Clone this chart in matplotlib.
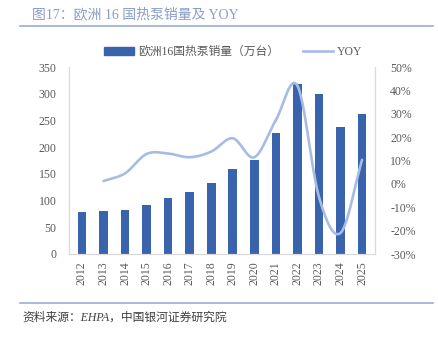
import numpy as np
import matplotlib
matplotlib.use("Agg")
import matplotlib.pyplot as plt
from matplotlib.lines import Line2D
from matplotlib.patches import Patch

years = ["2012", "2013", "2014", "2015", "2016", "2017", "2018",
         "2019", "2020", "2021", "2022", "2023", "2024", "2025"]
sales = [78, 80, 82, 92, 104, 116, 132, 159, 176, 227, 318, 300, 237, 262]
yoy_years = years[1:]
yoy = [1.2, 4.5, 12.8, 13.0, 11.4, 13.8, 19.5, 11.4, 27.3, 42.0, -5.6, -21.0, 10.3]

bar_color = "#3A63AE"
line_color = "#A7BCE5"
mixed = ["Liberation Serif", "Noto Sans CJK SC", "DejaVu Sans"]

fig = plt.figure(figsize=(4.39, 3.37), dpi=100)
ax = fig.add_axes([69/439, 1-254/337, (375-69)/439, (254-67)/337])
ax2 = ax.twinx()

x = np.arange(len(years))
ax.bar(x, sales, width=0.4, color=bar_color, zorder=2)
ax.set_xlim(-0.6, len(years) - 0.4)
ax.set_ylim(0, 350)
ax.set_yticks(np.arange(0, 351, 50))
ax.set_xticks(x)
ax.set_xticklabels(years, rotation=90)

# smoothed YOY line (Catmull-Rom rendering of data points)
xp = np.array([years.index(y) for y in yoy_years], dtype=float)
yp = np.array(yoy, dtype=float)
def catmull(xs, ys, n=30):
    P = np.column_stack([xs, ys])
    P = np.vstack([P[0] - (P[1] - P[0]), P, P[-1] + (P[-1] - P[-2])])
    out = []
    for i in range(1, len(P) - 2):
        p0, p1, p2, p3 = P[i-1], P[i], P[i+1], P[i+2]
        t = np.linspace(0, 1, n)[:, None]
        seg = 0.5 * ((2*p1) + (-p0 + p2)*t + (2*p0 - 5*p1 + 4*p2 - p3)*t**2 + (-p0 + 3*p1 - 3*p2 + p3)*t**3)
        out.append(seg)
    return np.vstack(out)
curve = catmull(xp, yp)
ax2.plot(curve[:, 0], curve[:, 1], color=line_color, lw=1.9, zorder=3, solid_capstyle="round")
ax2.set_ylim(-30, 50)
ax2.set_yticks(np.arange(-30, 51, 10))
ax2.set_yticklabels([f"{v}%" for v in range(-30, 51, 10)])

for a in (ax, ax2):
    for s in a.spines.values():
        s.set_color("#D9D9D9")
        s.set_linewidth(0.8)
    a.spines["top"].set_visible(False)
    a.tick_params(length=0, labelsize=8.5, labelcolor="#595959")
    for lab in a.get_xticklabels() + a.get_yticklabels():
        lab.set_fontfamily("Liberation Serif")
ax.tick_params(axis="y", pad=9)
ax2.tick_params(axis="y", pad=11)
ax.tick_params(axis="x", pad=5)

handles = [Patch(color=bar_color), Line2D([0], [0], color=line_color, lw=1.9)]
leg = fig.legend(handles, ["欧洲16国热泵销量（万台）", "YOY"], loc="center",
                 bbox_to_anchor=(233/439, 1-52/337), ncol=2, frameon=False,
                 prop={"family": mixed, "size": 8.5}, handlelength=2.6,
                 handleheight=0.6, columnspacing=2.0, handletextpad=0.3)
for t in leg.get_texts():
    t.set_color("#595959")

fig.text(32/439, 1-15/337, "图17：欧洲 16 国热泵销量及 YOY", fontsize=10,
         color="#8A9CCB", family=mixed, va="center", ha="left")
fig.add_artist(Line2D([20/439, 433/439], [1-26/337, 1-26/337], color="#9AAEDA", lw=1.2))
fig.add_artist(Line2D([20/439, 433/439], [1-303/337, 1-303/337], color="#9AAEDA", lw=1.2))
fig.text(22/439, 1-318/337, "资料来源：EHPA，中国银河证券研究院", fontsize=8.5,
         color="#404040", family=mixed, va="center", ha="left", style="italic")

fig.savefig("out.png", dpi=100)
